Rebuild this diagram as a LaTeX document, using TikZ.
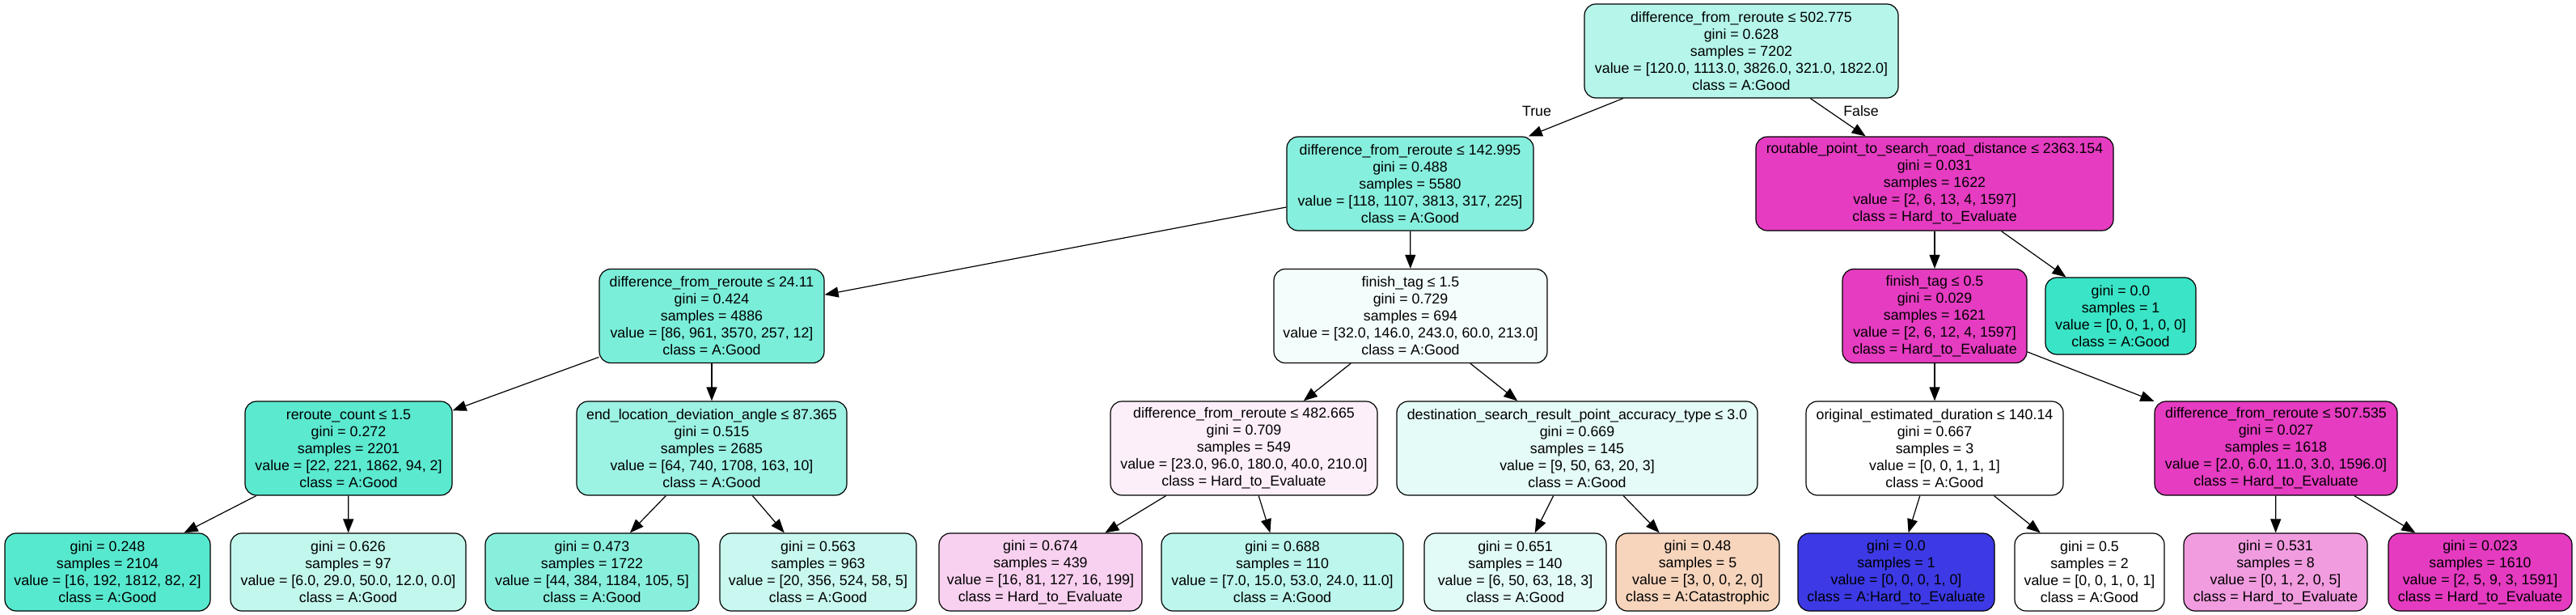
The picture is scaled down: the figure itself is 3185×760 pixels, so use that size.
\documentclass[tikz,border=0pt]{standalone}
\usepackage{fontspec}
\setmainfont{Liberation Sans}
\usetikzlibrary{arrows.meta}
\definecolor{cR}{RGB}{181,245,234}
\definecolor{cA}{RGB}{135,239,221}
\definecolor{cMag}{RGB}{229,60,193}
\definecolor{cC}{RGB}{123,238,217}
\definecolor{cD}{RGB}{243,253,251}
\definecolor{cTeal}{RGB}{57,229,198}
\definecolor{cG}{RGB}{91,233,208}
\definecolor{cH}{RGB}{156,242,227}
\definecolor{cI}{RGB}{253,239,250}
\definecolor{cJ}{RGB}{228,251,247}
\definecolor{cLa}{RGB}{87,233,207}
\definecolor{cLb}{RGB}{194,247,237}
\definecolor{cLc}{RGB}{137,239,221}
\definecolor{cLd}{RGB}{200,248,239}
\definecolor{cLe}{RGB}{249,209,240}
\definecolor{cLf}{RGB}{188,246,236}
\definecolor{cLg}{RGB}{226,251,247}
\definecolor{cLh}{RGB}{247,213,189}
\definecolor{cLi}{RGB}{60,57,229}
\definecolor{cLk}{RGB}{242,156,224}
\definecolor{cLl}{RGB}{229,59,193}
\begin{document}
\begin{tikzpicture}[x=0.5pt,y=-0.5pt,
  tree/.style={draw=black,line width=0.6pt,rounded corners=7pt,align=center,inner sep=1pt,
    font=\fontsize{8.9pt}{10.5pt}\selectfont},
  big/.style={tree,minimum height=58pt},
  leaf/.style={tree,minimum height=48pt},
  edge/.style={line width=0.6pt,-{Triangle[length=8.5pt,width=6.5pt]}},
  elabel/.style={font=\fontsize{8.9pt}{10.5pt}\selectfont,inner sep=0pt}]
\useasboundingbox (0,0) rectangle (3185,760);
\fill[white] (0,0) rectangle (3185,760);
% rank 1
\node[big,fill=cR,minimum width=194pt] (R) at (2153,63) {difference\_from\_reroute ≤ 502.775\\gini = 0.628\\samples = 7202\\value = [120.0, 1113.0, 3826.0, 321.0, 1822.0]\\class = A:Good};
% rank 2
\node[big,fill=cA,minimum width=152.5pt] (A) at (1743.5,227) {difference\_from\_reroute ≤ 142.995\\gini = 0.488\\samples = 5580\\value = [118, 1107, 3813, 317, 225]\\class = A:Good};
\node[big,fill=cMag,minimum width=221pt] (B) at (2392,227) {routable\_point\_to\_search\_road\_distance ≤ 2363.154\\gini = 0.031\\samples = 1622\\value = [2, 6, 13, 4, 1597]\\class = Hard\_to\_Evaluate};
% rank 3
\node[big,fill=cC,minimum width=139pt] (C) at (880,390.5) {difference\_from\_reroute ≤ 24.11\\gini = 0.424\\samples = 4886\\value = [86, 961, 3570, 257, 12]\\class = A:Good};
\node[big,fill=cD,minimum width=169pt] (D) at (1744,390.5) {finish\_tag ≤ 1.5\\gini = 0.729\\samples = 694\\value = [32.0, 146.0, 243.0, 60.0, 213.0]\\class = A:Good};
\node[big,fill=cMag,minimum width=114pt] (E) at (2392,390.5) {finish\_tag ≤ 0.5\\gini = 0.029\\samples = 1621\\value = [2, 6, 12, 4, 1597]\\class = Hard\_to\_Evaluate};
\node[tree,fill=cTeal,minimum width=93pt,minimum height=47.5pt] (F) at (2622,390.5) {gini = 0.0\\samples = 1\\value = [0, 0, 1, 0, 0]\\class = A:Good};
% rank 4
\node[big,fill=cG,minimum width=128pt] (G) at (431,554) {reroute\_count ≤ 1.5\\gini = 0.272\\samples = 2201\\value = [22, 221, 1862, 94, 2]\\class = A:Good};
\node[big,fill=cH,minimum width=167pt] (H) at (880,554) {end\_location\_deviation\_angle ≤ 87.365\\gini = 0.515\\samples = 2685\\value = [64, 740, 1708, 163, 10]\\class = A:Good};
\node[big,fill=cI,minimum width=165pt] (I) at (1538,554) {difference\_from\_reroute ≤ 482.665\\gini = 0.709\\samples = 549\\value = [23.0, 96.0, 180.0, 40.0, 210.0]\\class = Hard\_to\_Evaluate};
\node[big,fill=cJ,minimum width=223pt] (J) at (1950,554) {destination\_search\_result\_point\_accuracy\_type ≤ 3.0\\gini = 0.669\\samples = 145\\value = [9, 50, 63, 20, 3]\\class = A:Good};
\node[big,fill=white,minimum width=159pt] (K) at (2392,554) {original\_estimated\_duration ≤ 140.14\\gini = 0.667\\samples = 3\\value = [0, 0, 1, 1, 1]\\class = A:Good};
\node[big,fill=cMag,minimum width=150pt] (L) at (2814,554) {difference\_from\_reroute ≤ 507.535\\gini = 0.027\\samples = 1618\\value = [2.0, 6.0, 11.0, 3.0, 1596.0]\\class = Hard\_to\_Evaluate};
% rank 5 (leaves)
\node[leaf,fill=cLa,minimum width=127pt] (l1) at (133,707) {gini = 0.248\\samples = 2104\\value = [16, 192, 1812, 82, 2]\\class = A:Good};
\node[leaf,fill=cLb,minimum width=145.5pt] (l2) at (430.5,707) {gini = 0.626\\samples = 97\\value = [6.0, 29.0, 50.0, 12.0, 0.0]\\class = A:Good};
\node[leaf,fill=cLc,minimum width=132pt] (l3) at (732,707) {gini = 0.473\\samples = 1722\\value = [44, 384, 1184, 105, 5]\\class = A:Good};
\node[leaf,fill=cLd,minimum width=121.5pt] (l4) at (1011.5,707) {gini = 0.563\\samples = 963\\value = [20, 356, 524, 58, 5]\\class = A:Good};
\node[leaf,fill=cLe,minimum width=125.5pt] (l5) at (1286.5,707) {gini = 0.674\\samples = 439\\value = [16, 81, 127, 16, 199]\\class = Hard\_to\_Evaluate};
\node[leaf,fill=cLf,minimum width=149.5pt] (l6) at (1585.5,707) {gini = 0.688\\samples = 110\\value = [7.0, 15.0, 53.0, 24.0, 11.0]\\class = A:Good};
\node[leaf,fill=cLg,minimum width=112.5pt] (l7) at (1873.5,707) {gini = 0.651\\samples = 140\\value = [6, 50, 63, 18, 3]\\class = A:Good};
\node[leaf,fill=cLh,minimum width=101pt] (l8) at (2099,707) {gini = 0.48\\samples = 5\\value = [3, 0, 0, 2, 0]\\class = A:Catastrophic};
\node[leaf,fill=cLi,minimum width=121.5pt] (l9) at (2344.5,707) {gini = 0.0\\samples = 1\\value = [0, 0, 0, 1, 0]\\class = A:Hard\_to\_Evaluate};
\node[leaf,fill=white,minimum width=92.5pt] (l10) at (2583.5,707) {gini = 0.5\\samples = 2\\value = [0, 0, 1, 0, 1]\\class = A:Good};
\node[leaf,fill=cLk,minimum width=113.5pt] (l11) at (2813.5,707) {gini = 0.531\\samples = 8\\value = [0, 1, 2, 0, 5]\\class = Hard\_to\_Evaluate};
\node[leaf,fill=cLl,minimum width=113.5pt] (l12) at (3066.5,707) {gini = 0.023\\samples = 1610\\value = [2, 5, 9, 3, 1591]\\class = Hard\_to\_Evaluate};
% edges
\draw[edge] (R) -- (A);
\draw[edge] (R) -- (B);
\node[elabel] (tT) at (1900,137) {True};
\node[elabel] (tF) at (2301,137) {False};
\draw[edge] (A) -- (C);
\draw[edge] (A) -- (D);
\draw[edge] (B) -- (E);
\draw[edge] (B) -- (F);
\draw[edge] (C) -- (G);
\draw[edge] (C) -- (H);
\draw[edge] (D) -- (I);
\draw[edge] (D) -- (J);
\draw[edge] (E) -- (K);
\draw[edge] (E) -- (L);
\draw[edge] (G) -- (l1);
\draw[edge] (G) -- (l2);
\draw[edge] (H) -- (l3);
\draw[edge] (H) -- (l4);
\draw[edge] (I) -- (l5);
\draw[edge] (I) -- (l6);
\draw[edge] (J) -- (l7);
\draw[edge] (J) -- (l8);
\draw[edge] (K) -- (l9);
\draw[edge] (K) -- (l10);
\draw[edge] (L) -- (l11);
\draw[edge] (L) -- (l12);
\end{tikzpicture}
\end{document}
